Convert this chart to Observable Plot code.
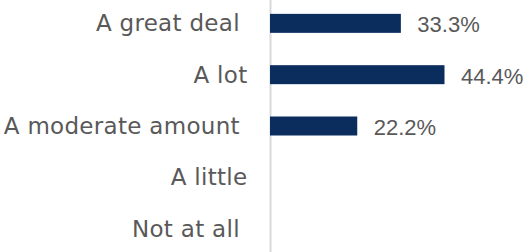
<!DOCTYPE html>
<html>
<head>
<meta charset="utf-8">
<script src="https://cdn.jsdelivr.net/npm/d3@7"></script>
<script src="https://cdn.jsdelivr.net/npm/@observablehq/plot@0.6"></script>
<style>
  html, body { margin: 0; padding: 0; background: #ffffff; }
  svg text { white-space: pre; }
  svg g[aria-label="y-axis tick label"] text { letter-spacing: 0.3px; }
</style>
</head>
<body>
<div id="chart"></div>
<script>
const categories = ["A great deal ", "A lot", "A moderate amount ", "A little", "Not at all "];
const values = [33.3, 44.4, 22.2, 0, 0];
const valueLabels = ["33.3%", "44.4%", "22.2%", "", ""];

const data = categories.map((c, i) => ({category: c, value: values[i], label: valueLabels[i]}));

const chart = Plot.plot({
  width: 528,
  height: 252,
  marginLeft: 270,
  marginRight: 61.5,
  marginTop: 0,
  marginBottom: 0,
  style: {fontFamily: "DejaVu Sans", fontSize: "23px", color: "#595959", background: "#ffffff"},
  x: {domain: [0, 50], axis: null},
  y: {domain: categories, paddingInner: 0.63, paddingOuter: 0.27, round: false, label: null},
  marks: [
    Plot.axisY({tickSize: 0, tickPadding: 23, fill: "#595959", fontSize: 23, label: null}),
    Plot.ruleX([0], {stroke: "#d9d9d9", strokeWidth: 2}),
    Plot.barX(data, {x: "value", y: "category", fill: "#0a2d5e"}),
    Plot.text(data.filter(d => d.value > 0), {x: "value", y: "category", text: "label", textAnchor: "start", dx: 16, dy: 1.5, fill: "#595959", fontSize: 22, fontFamily: "Liberation Sans"})
  ]
});
document.getElementById("chart").appendChild(chart);
</script>
</body>
</html>
